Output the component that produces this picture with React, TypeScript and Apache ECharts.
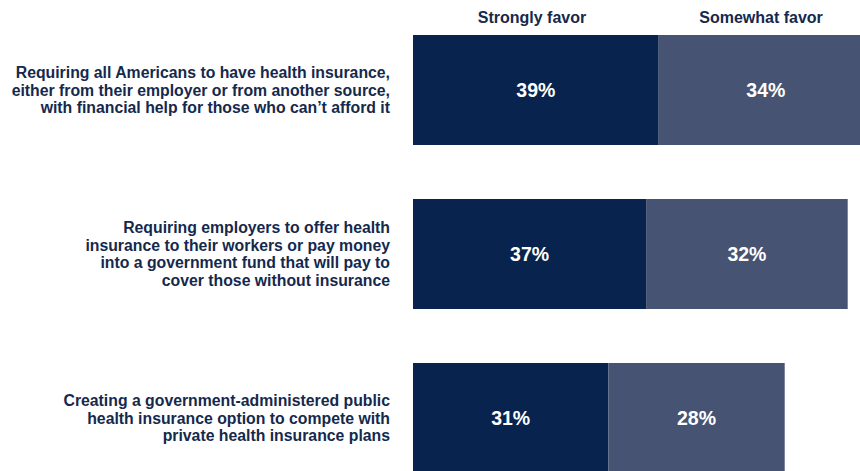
import React, { useEffect, useRef } from "react";
import * as echarts from "echarts";

const categories = [
  "Requiring all Americans to have health insurance,\neither from their employer or from another source,\nwith financial help for those who can\u2019t afford it",
  "Requiring employers to offer health\ninsurance to their workers or pay money\ninto a government fund that will pay to\ncover those without insurance",
  "Creating a government-administered public\nhealth insurance option to compete with\nprivate health insurance plans",
];
const seriesNames = ["Strongly favor", "Somewhat favor"];
const stronglyFavor = [39, 37, 31];
const somewhatFavor = [34, 32, 28];

const FONT = "Arial, 'Liberation Sans', Helvetica, sans-serif";
const DARK = "#08234d";
const MID = "#475372";
const TEXT = "#15294d";

export default function App() {
  const ref = useRef<HTMLDivElement>(null);
  useEffect(() => {
    if (!ref.current) return;
    const chart = echarts.init(ref.current, null, { renderer: "svg" });
    const label = {
      show: true,
      position: "inside",
      color: "#ffffff",
      fontWeight: "bold",
      fontSize: 19.5,
      fontFamily: FONT,
      formatter: "{c}%",
    };
    chart.setOption({
      animation: false,
      backgroundColor: "#ffffff",
      grid: {
        left: 413,
        top: 8,
        width: 630,
        height: 492,
        containLabel: false,
        outerBoundsMode: "none",
      },
      xAxis: {
        type: "value",
        min: 0,
        max: 100,
        show: false,
      },
      yAxis: {
        type: "category",
        inverse: true,
        data: categories,
        axisLine: { show: false },
        axisTick: { show: false },
        splitLine: { show: false },
        axisLabel: {
          margin: 23,
          color: TEXT,
          fontWeight: "bold",
          fontSize: 15.8,
          lineHeight: 17.5,
          fontFamily: FONT,
          align: "right",
        },
      },
      graphic: [
        {
          type: "text",
          x: 532,
          y: 17,
          style: {
            text: seriesNames[0],
            fill: TEXT,
            font: `bold 16px ${FONT}`,
            align: "center",
            verticalAlign: "middle",
          },
        },
        {
          type: "text",
          x: 761,
          y: 17,
          style: {
            text: seriesNames[1],
            fill: TEXT,
            font: `bold 16px ${FONT}`,
            align: "center",
            verticalAlign: "middle",
          },
        },
      ],
      series: [
        {
          name: seriesNames[0],
          type: "bar",
          stack: "total",
          barWidth: 110,
          data: stronglyFavor,
          itemStyle: { color: DARK },
          label,
        },
        {
          name: seriesNames[1],
          type: "bar",
          stack: "total",
          barWidth: 110,
          data: somewhatFavor,
          itemStyle: { color: MID },
          label,
        },
      ],
    });
    return () => chart.dispose();
  }, []);
  return (
    <div
      ref={ref}
      style={{ position: "absolute", left: 0, top: 0, width: 860, height: 471 }}
    />
  );
}
